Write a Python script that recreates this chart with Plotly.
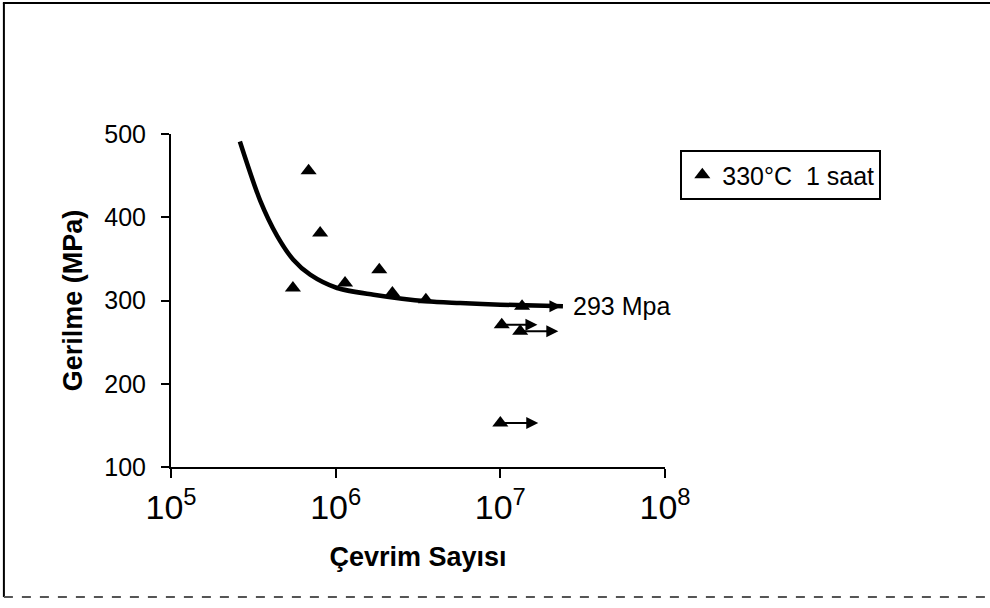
import math
import plotly.graph_objects as go

# Fatigue test results, 330°C / 1 h heat treatment
cycles = [5.5e5, 6.85e5, 8.05e5, 1.14e6, 1.84e6, 2.21e6, 3.53e6,
          1.355e7, 1.02e7, 1.32e7, 1.0e7]
stress = [315, 456, 381, 321, 337, 309, 301,
          293, 271, 263, 153]

# Run-out specimens (no failure): start cycle, stress, arrow tip cycle
runout_start = [1.355e7, 1.02e7, 1.32e7, 1.0e7]
runout_stress = [293, 271, 263, 153]
runout_tip = [2.35e7, 1.68e7, 2.25e7, 1.7e7]

# Fitted S-N curve
curve_cycles = [2.62e5, 3.48e5, 4.40e5, 5.53e5, 7.0e5, 1.02e6, 1.70e6,
                3.58e6, 5.7e6, 1.0e7, 2.4e7]
curve_stress = [491, 420, 378, 349, 331, 315, 307, 299, 297, 295, 293]
endurance_limit = 293

x_tickvals = [1e5, 1e6, 1e7, 1e8]
x_ticktext = ["10<sup>5</sup>", "10<sup>6</sup>", "10<sup>7</sup>", "10<sup>8</sup>"]
y_tickvals = [100, 200, 300, 400, 500]

W, H = 990, 608
L, R, T, B = 171, 664.7, 134, 467  # plot area in pixels

def px_x(p):
    return (p - L) / (R - L)

def px_y(p):
    return (B - p) / (B - T)

narrow = "Liberation Sans Narrow, Arial Narrow, Liberation Sans, Arial, sans-serif"
sans = "Liberation Sans, Arial, sans-serif"

fig = go.Figure()

fig.add_trace(go.Scatter(
    x=curve_cycles, y=curve_stress, mode="lines",
    line=dict(color="black", width=4.5, shape="spline", smoothing=0.8),
    showlegend=False, hoverinfo="skip",
))

fig.add_trace(go.Scatter(
    x=cycles, y=stress, mode="markers",
    marker=dict(symbol="triangle-up", size=14, color="black"),
    name="330°C\u00a0 1 saat",
))

annotations = []
for xs, ys, xt in zip(runout_start, runout_stress, runout_tip):
    annotations.append(dict(
        x=math.log10(xt), y=ys, ax=math.log10(xs), ay=ys,
        xref="x", yref="y", axref="x", ayref="y",
        showarrow=True, arrowhead=2, arrowsize=1.2, arrowwidth=2,
        arrowcolor="black", text="",
    ))

annotations.append(dict(
    x=math.log10(curve_cycles[-1]), y=endurance_limit,
    xref="x", yref="y", xanchor="left", yanchor="middle", xshift=8,
    text=f"{endurance_limit} Mpa", showarrow=False,
    font=dict(family=sans, size=25, color="black"),
))

shapes = [
    # outer frame: top and left solid, bottom dashed
    dict(type="line", xref="paper", yref="paper",
         x0=px_x(3), x1=px_x(990), y0=px_y(3), y1=px_y(3),
         line=dict(color="black", width=2)),
    dict(type="line", xref="paper", yref="paper",
         x0=px_x(4), x1=px_x(4), y0=px_y(3), y1=px_y(597),
         line=dict(color="black", width=2)),
    dict(type="line", xref="paper", yref="paper",
         x0=px_x(4), x1=px_x(990), y0=px_y(597), y1=px_y(597),
         line=dict(color="#555555", width=2, dash="dash")),
]

fig.update_layout(
    width=W, height=H,
    margin=dict(l=L, r=W - R, t=T, b=H - B, pad=0),
    paper_bgcolor="white", plot_bgcolor="white",
    font=dict(family=sans, color="black"),
    showlegend=True,
    legend=dict(
        x=px_x(680), y=px_y(150), xanchor="left", yanchor="top",
        bordercolor="black", borderwidth=2, bgcolor="white",
        font=dict(family=sans, size=25, color="black"),
        itemwidth=30, tracegroupgap=0,
    ),
    xaxis=dict(
        type="log", range=[5, 8],
        tickvals=x_tickvals, ticktext=x_ticktext,
        tickfont=dict(family=sans, size=34, color="black"),
        showline=True, linecolor="black", linewidth=2,
        ticks="outside", ticklen=9, tickwidth=2, tickcolor="black",
        showgrid=False, zeroline=False,
        title=dict(text="<b>Çevrim Sayısı</b>",
                   font=dict(family=narrow, size=27, color="black"),
                   standoff=22),
    ),
    yaxis=dict(
        range=[100, 500], tickvals=y_tickvals,
        tickfont=dict(family=sans, size=25, color="black"),
        showline=True, linecolor="black", linewidth=2,
        ticks="outside", ticklen=8, tickwidth=2, tickcolor="black",
        ticklabelstandoff=10,
        showgrid=False, zeroline=False,
        title=dict(text="<b>Gerilme (MPa)</b>",
                   font=dict(family=narrow, size=27, color="black"),
                   standoff=14),
    ),
    annotations=annotations,
    shapes=shapes,
)

fig.write_html("out.html")
